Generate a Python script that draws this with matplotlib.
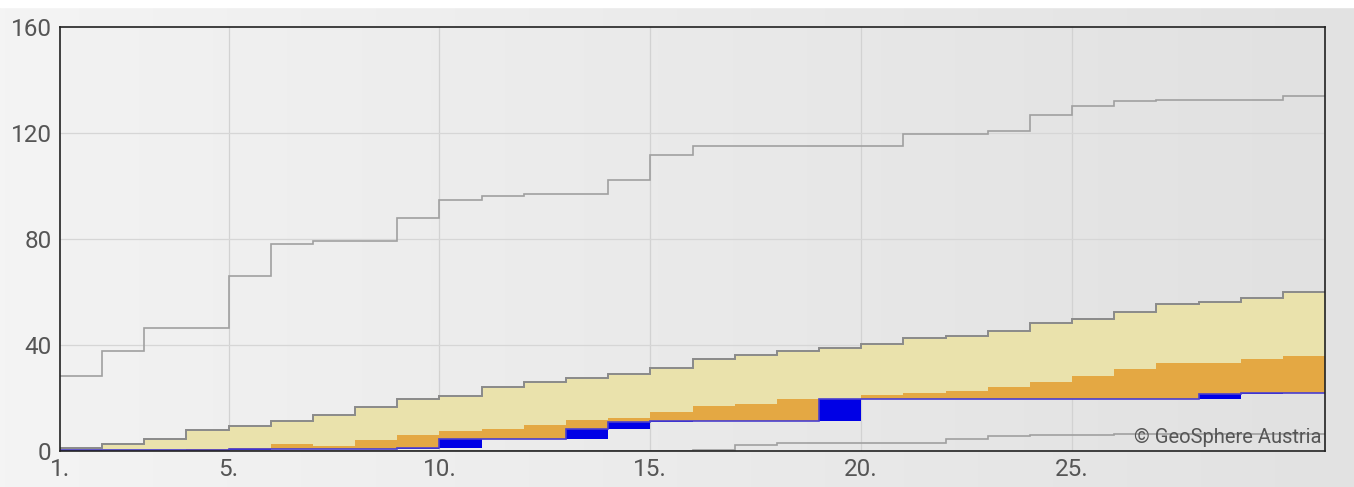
import numpy as np
import matplotlib
matplotlib.use('Agg')
import matplotlib.pyplot as plt
from matplotlib.colors import LinearSegmentedColormap

# Tage 1..30, kumulierte Niederschlagssumme (mm)
days = list(range(1, 32))  # Kanten der Tagesstufen
max_sum = [28.4, 37.7, 46.3, 46.3, 66.1, 78.1, 79.3, 79.3, 87.9, 94.7,
           96.1, 97.0, 97.0, 102.3, 111.7, 115.2, 115.2, 115.2, 115.2, 115.2,
           119.7, 119.7, 120.9, 126.9, 130.1, 131.9, 132.4, 132.4, 132.4, 133.9]
min_sum = [0, 0, 0, 0, 0, 0, 0, 0, 0, 0,
           0, 0, 0, 0, 0, 0.3, 2.2, 3.0, 3.0, 3.0,
           3.0, 4.5, 5.6, 6.2, 6.2, 6.3, 6.3, 6.3, 6.3, 6.4]
upper_sum = [1.1, 2.5, 4.5, 8.1, 9.6, 11.2, 13.5, 16.5, 19.7, 20.7,
             24.0, 25.9, 27.5, 29.1, 31.5, 34.7, 36.2, 37.6, 38.8, 40.2,
             42.5, 43.4, 45.2, 48.2, 49.8, 52.6, 55.5, 56.1, 57.8, 60.0]
median_sum = [0.3, 0.3, 0.3, 0.9, 1.0, 2.5, 2.0, 4.0, 6.2, 7.4,
              8.2, 9.8, 11.7, 12.3, 14.9, 17.0, 17.8, 19.6, 19.8, 21.0,
              21.9, 22.7, 24.2, 26.1, 28.3, 30.9, 33.3, 33.3, 34.6, 35.8]
actual_sum = [0.2, 0.2, 0.2, 0.2, 0.8, 0.8, 0.8, 0.8, 1.0, 4.6,
              4.6, 4.6, 8.2, 11.0, 11.4, 11.4, 11.4, 11.4, 19.8, 19.8,
              19.8, 19.8, 19.8, 19.8, 19.8, 19.8, 19.8, 21.7, 21.9, 21.9]
x_ticks = [1, 5, 10, 15, 20, 25]
x_labels = ['1.', '5.', '10.', '15.', '20.', '25.']
y_ticks = [0, 40, 80, 120, 160]

plt.rcParams['font.family'] = ['Roboto', 'DejaVu Sans']

edges = np.array(days, dtype=float)
actual = np.array(actual_sum)
median = np.array(median_sum)
upper = np.array(upper_sum)
prev = np.concatenate([[0.0], actual[:-1]])
orange_top = np.maximum(median, actual)
yellow_top = np.maximum(upper, orange_top)

fig = plt.figure(figsize=(13.54, 4.87), dpi=100)

# Hintergrundverlauf der ganzen Grafik
bg = fig.add_axes([0, 0, 1, 1], zorder=-10)
bg_cmap = LinearSegmentedColormap.from_list('bg', ['#f4f4f4', '#e2e2e2'])
bg.imshow(np.linspace(0, 1, 256)[None, :], aspect='auto', cmap=bg_cmap,
          extent=[0, 1, 0, 1])
bg.fill_between([0, 1], 0.985, 1, color='white')
bg.set_xlim(0, 1)
bg.set_ylim(0, 1)
bg.axis('off')

ax = fig.add_axes([0.0443, 0.0739, 0.9343, 0.8707])
ax.patch.set_alpha(0)
ax_cmap = LinearSegmentedColormap.from_list('ax', ['#f2f2f2', '#e1e1e1'])
ax.imshow(np.linspace(0, 1, 256)[None, :], aspect='auto', cmap=ax_cmap,
          extent=[1, 31, 0, 160], zorder=0)

# Gitter
for xv in [5, 10, 15, 20, 25]:
    ax.axvline(xv, color='#d2d2d2', lw=0.9, zorder=1)
for yv in [40, 80, 120]:
    ax.axhline(yv, color='#d6d6d6', lw=0.9, zorder=1)

# Bänder
ax.stairs(orange_top, edges, baseline=actual, fill=True, color='#e4a843', lw=0, zorder=2)
ax.stairs(yellow_top, edges, baseline=orange_top, fill=True, color='#eae2ac', lw=0, zorder=2)
ax.stairs(upper, edges, baseline=None, color='#8a8a8a', lw=1.4, zorder=3)

# Extremwerte
ax.stairs(max_sum, edges, baseline=None, color='#a0a0a0', lw=1.2, zorder=3)
ax.stairs(min_sum, edges, baseline=None, color='#a0a0a0', lw=1.2, zorder=3)

# aktuelle Summe und Tageszuwachs
ax.stairs(actual, edges, baseline=prev, fill=True, color='#0000e6', lw=0, zorder=4)
ax.stairs(actual, edges, baseline=None, color='#4a3fcf', lw=1.2, zorder=5)

ax.set_xlim(1, 31)
ax.set_ylim(0, 160)
ax.set_xticks(x_ticks)
ax.set_xticklabels(x_labels)
ax.set_yticks(y_ticks)
ax.tick_params(length=0, labelsize=17.5, colors='#555555', pad=6)
ax.tick_params(axis='x', pad=5)
for s in ax.spines.values():
    s.set_color('#222222')
    s.set_linewidth(1.2)
    s.set_zorder(6)

ax.text(0.9975, 0.01, '© GeoSphere Austria', transform=ax.transAxes,
        ha='right', va='bottom', fontsize=14.5, color='#555555', zorder=6)

fig.savefig('out.png', dpi=100)
